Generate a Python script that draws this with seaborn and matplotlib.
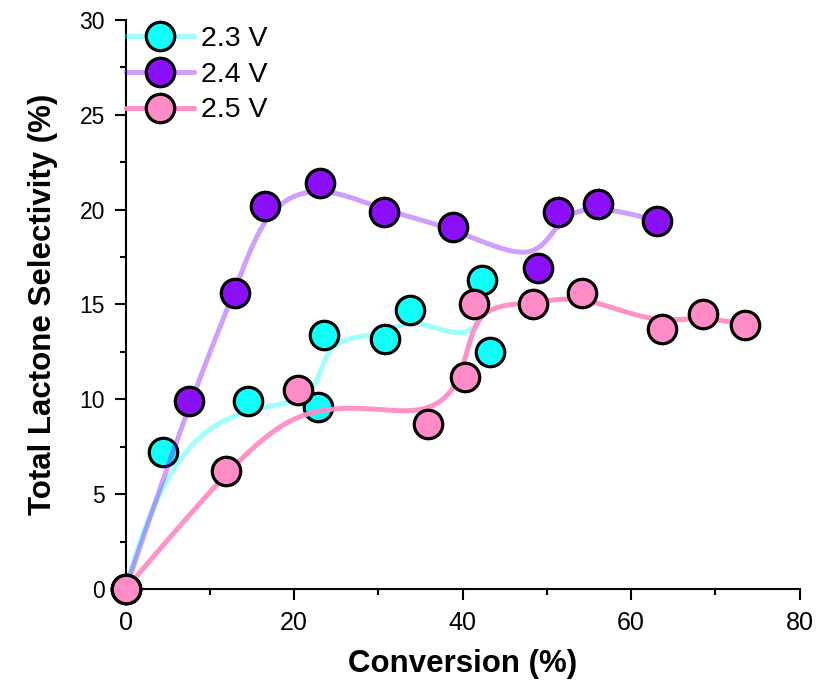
import numpy as np
import matplotlib
matplotlib.use("Agg")
import matplotlib.pyplot as plt
from matplotlib.lines import Line2D
from matplotlib.colors import to_rgba
from matplotlib.ticker import MultipleLocator
import seaborn as sns

# data (order as plotted)
conv_23 = [0, 4.4, 14.5, 22.8, 23.5, 30.8, 33.8, 43.2, 42.3]
sel_23 = [0, 7.2, 9.9, 9.6, 13.4, 13.2, 14.7, 12.5, 16.3]

conv_24 = [0, 7.5, 13.0, 16.5, 23.1, 30.7, 38.8, 49.0, 51.3, 56.1, 63.1]
sel_24 = [0, 9.9, 15.6, 20.2, 21.4, 19.9, 19.1, 16.9, 19.9, 20.3, 19.4]

conv_25 = [0, 11.9, 20.5, 35.9, 40.3, 41.3, 48.4, 54.2, 63.7, 68.5, 73.5]
sel_25 = [0, 6.2, 10.5, 8.7, 11.2, 15.0, 15.0, 15.6, 13.7, 14.5, 13.9]

labels = ["2.3 V", "2.4 V", "2.5 V"]
colors = ["#10FFF8", "#8B10F9", "#FF8CC6"]
line_alpha = [0.4, 0.4, 0.95]


def bspline(xs, ys, n=500, k=3):
    # clamped uniform cubic B-spline through the control points
    P = np.column_stack([xs, ys]).astype(float)
    m = len(P)
    knots = np.concatenate([np.zeros(k), np.linspace(0, 1, m - k + 1), np.ones(k)])
    t = np.linspace(0, 1, n)
    N = np.zeros((n, len(knots) - 1))
    for i in range(len(knots) - 1):
        N[:, i] = (t >= knots[i]) & (t < knots[i + 1])
    N[-1, m - 1] = 1.0
    for p in range(1, k + 1):
        Nn = np.zeros((n, len(knots) - 1 - p))
        for i in range(len(knots) - 1 - p):
            d1 = knots[i + p] - knots[i]
            d2 = knots[i + p + 1] - knots[i + 1]
            a = (t - knots[i]) / d1 * N[:, i] if d1 > 0 else 0
            b = (knots[i + p + 1] - t) / d2 * N[:, i + 1] if d2 > 0 else 0
            Nn[:, i] = a + b
        N = Nn
    C = N @ P
    return C[:, 0], C[:, 1]


sns.set_style("ticks")
plt.rcParams["font.family"] = ["Liberation Sans", "DejaVu Sans"]
plt.rcParams["text.color"] = "black"
plt.rcParams["axes.labelcolor"] = "black"

fig = plt.figure(figsize=(8.16, 6.85), dpi=100)
ax = fig.add_axes([0.154, 0.140, 0.826, 0.831])

series = [(conv_23, sel_23), (conv_24, sel_24), (conv_25, sel_25)]
handles = []
for i, (cx, cy) in enumerate(series):
    lc = to_rgba(colors[i], line_alpha[i])
    sx, sy = bspline(cx, cy)
    sns.lineplot(x=sx, y=sy, sort=False, estimator=None, color=lc, lw=3.6,
                 ax=ax, zorder=3 + 2 * i)
    sns.scatterplot(x=cx, y=cy, s=420, color=colors[i], edgecolor="black",
                    linewidth=2.3, ax=ax, zorder=4 + 2 * i, clip_on=False)
    handles.append(Line2D([], [], color=lc, lw=3.6, marker="o", markersize=20.5,
                          markerfacecolor=colors[i], markeredgecolor="black",
                          markeredgewidth=2.3))

ax.set_xlim(0, 80)
ax.set_ylim(0, 30)
ax.xaxis.set_major_locator(MultipleLocator(20))
ax.xaxis.set_minor_locator(MultipleLocator(10))
ax.yaxis.set_major_locator(MultipleLocator(5))
ax.yaxis.set_minor_locator(MultipleLocator(2.5))
ax.tick_params(which="major", direction="out", length=8, width=1.5, pad=7, colors="black")
ax.tick_params(which="minor", direction="out", length=4, width=1.5, colors="black")
ax.tick_params(axis="x", labelsize=18, pad=8)
ax.tick_params(axis="y", labelsize=16.5)
for s in ["top", "right"]:
    ax.spines[s].set_visible(False)
for s in ["left", "bottom"]:
    ax.spines[s].set_linewidth(1.5)
    ax.spines[s].set_color("black")

ax.set_xlabel("Conversion (%)", fontsize=22.5, fontweight="bold", labelpad=10)
ax.set_ylabel("Total Lactone Selectivity (%)", fontsize=22.5, fontweight="bold", labelpad=15)

ax.legend(handles, labels, loc="upper left", bbox_to_anchor=(0.0, 0.99), frameon=False,
          fontsize=20.5, handlelength=2.4, handletextpad=0.25, labelspacing=0.35,
          borderpad=0, borderaxespad=0, numpoints=1)

fig.savefig("out.png", dpi=100)
